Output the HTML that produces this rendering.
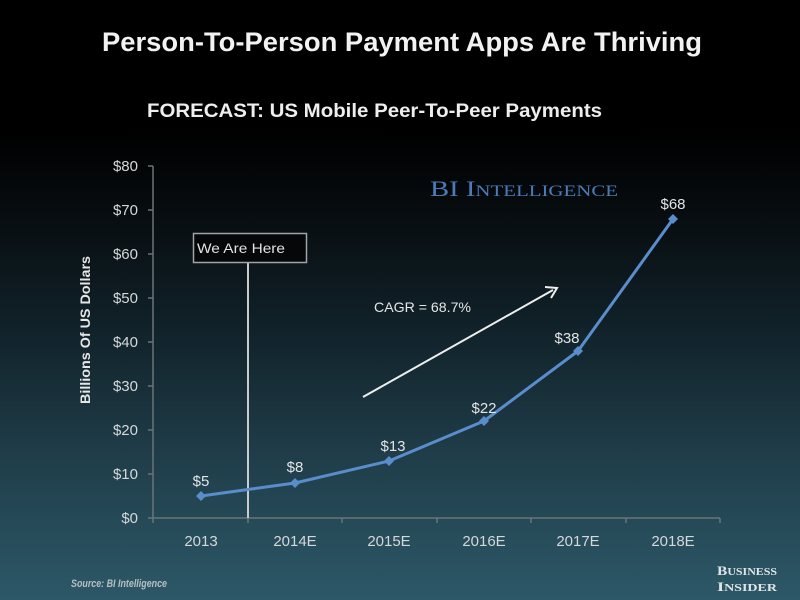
<!DOCTYPE html>
<html>
<head>
<meta charset="utf-8">
<style>
  html, body { margin: 0; padding: 0; }
  body { width: 800px; height: 600px; overflow: hidden; }
  .bg {
    position: absolute; left: 0; top: 0; width: 800px; height: 600px;
    background: linear-gradient(to bottom, #000000 0%, #000000 22%, #070c0f 35%, #11222a 55%, #1f3c48 75%, #2d5868 100%);
  }
  svg { position: absolute; left: 0; top: 0; }
</style>
</head>
<body>
<div class="bg"></div>
<svg width="800" height="600" viewBox="0 0 800 600" xmlns="http://www.w3.org/2000/svg" font-family="Liberation Sans, sans-serif">
  <!-- Title -->
  <text x="102" y="51" font-size="27" font-weight="bold" fill="#f2f2f2" textLength="600" lengthAdjust="spacingAndGlyphs">Person-To-Person Payment Apps Are Thriving</text>
  <text x="147" y="117" font-size="19" font-weight="bold" fill="#eeeeee" textLength="455" lengthAdjust="spacingAndGlyphs">FORECAST: US Mobile Peer-To-Peer Payments</text>

  <!-- BI Intelligence -->
  <text x="430" y="196" font-family="Liberation Serif, serif" font-size="22" fill="#4b7cb8" textLength="188" lengthAdjust="spacingAndGlyphs">BI I<tspan font-size="16">NTELLIGENCE</tspan></text>

  <!-- Axes -->
  <g stroke="#6b7478" stroke-width="1.5" fill="none">
    <line x1="153" y1="166" x2="153" y2="518"/>
    <line x1="153" y1="518" x2="720" y2="518"/>
    <line x1="148" y1="166" x2="153" y2="166"/>
    <line x1="148" y1="210" x2="153" y2="210"/>
    <line x1="148" y1="254" x2="153" y2="254"/>
    <line x1="148" y1="298" x2="153" y2="298"/>
    <line x1="148" y1="342" x2="153" y2="342"/>
    <line x1="148" y1="386" x2="153" y2="386"/>
    <line x1="148" y1="430" x2="153" y2="430"/>
    <line x1="148" y1="474" x2="153" y2="474"/>
    <line x1="148" y1="518" x2="153" y2="518"/>
    <line x1="153" y1="518" x2="153" y2="523"/>
    <line x1="248" y1="518" x2="248" y2="523"/>
    <line x1="342" y1="518" x2="342" y2="523"/>
    <line x1="437" y1="518" x2="437" y2="523"/>
    <line x1="531" y1="518" x2="531" y2="523"/>
    <line x1="626" y1="518" x2="626" y2="523"/>
    <line x1="720" y1="518" x2="720" y2="523"/>
  </g>

  <!-- Y tick labels -->
  <g font-size="15" fill="#d4d8da" text-anchor="end">
    <text x="138" y="171">$80</text>
    <text x="138" y="215">$70</text>
    <text x="138" y="259">$60</text>
    <text x="138" y="303">$50</text>
    <text x="138" y="347">$40</text>
    <text x="138" y="391">$30</text>
    <text x="138" y="435">$20</text>
    <text x="138" y="479">$10</text>
    <text x="138" y="523">$0</text>
  </g>

  <!-- X labels -->
  <g font-size="15" fill="#d4d8da" text-anchor="middle">
    <text x="201" y="546">2013</text>
    <text x="295" y="546">2014E</text>
    <text x="389" y="546">2015E</text>
    <text x="484" y="546">2016E</text>
    <text x="578" y="546">2017E</text>
    <text x="673" y="546">2018E</text>
  </g>

  <!-- Y axis title -->
  <text transform="translate(90,330) rotate(-90)" font-size="14" font-weight="bold" fill="#e6e6e6" text-anchor="middle" textLength="148" lengthAdjust="spacingAndGlyphs">Billions Of US Dollars</text>

  <!-- We Are Here -->
  <line x1="248" y1="263" x2="248" y2="518" stroke="#c8cccd" stroke-width="2"/>
  <rect x="193.5" y="233.5" width="113" height="29" fill="#050708" stroke="#a0a4a6" stroke-width="1.5"/>
  <text x="197" y="253" font-size="14" fill="#e2e2e2" textLength="88" lengthAdjust="spacingAndGlyphs">We Are Here</text>

  <!-- CAGR -->
  <text x="374" y="312" font-size="14" fill="#e6e6e6" textLength="97" lengthAdjust="spacingAndGlyphs">CAGR = 68.7%</text>
  <line x1="363" y1="397" x2="553" y2="290" stroke="#eeeeee" stroke-width="2"/>
  <polyline points="545,287 557,288 551,298" fill="none" stroke="#eeeeee" stroke-width="2"/>

  <!-- Series -->
  <polyline points="201,496 295,483 389,461 484,421 578,351 673,219" fill="none" stroke="#5a8dcc" stroke-width="3" stroke-linejoin="round"/>
  <g fill="#5a8dcc">
    <polygon points="201,491 206,496 201,501 196,496"/>
    <polygon points="295,478 300,483 295,488 290,483"/>
    <polygon points="389,456 394,461 389,466 384,461"/>
    <polygon points="484,416 489,421 484,426 479,421"/>
    <polygon points="578,346 583,351 578,356 573,351"/>
    <polygon points="673,214 678,219 673,224 668,219"/>
  </g>

  <!-- Data labels -->
  <g font-size="15" fill="#e2e4e6" text-anchor="middle">
    <text x="201" y="486">$5</text>
    <text x="295" y="472">$8</text>
    <text x="393" y="451">$13</text>
    <text x="484" y="413">$22</text>
    <text x="567" y="343">$38</text>
    <text x="673" y="209">$68</text>
  </g>

  <!-- Source -->
  <text x="71" y="587" font-size="11" font-style="italic" font-weight="bold" fill="#b6c0c4" textLength="96" lengthAdjust="spacingAndGlyphs">Source: BI Intelligence</text>

  <!-- Business Insider logo -->
  <text x="717" y="575" font-family="Liberation Serif, serif" font-size="13" font-weight="bold" fill="#dfe6e8" textLength="60" lengthAdjust="spacingAndGlyphs">B<tspan font-size="10">USINESS</tspan></text>
  <text x="717" y="591" font-family="Liberation Serif, serif" font-size="13" font-weight="bold" fill="#dfe6e8" textLength="60" lengthAdjust="spacingAndGlyphs">I<tspan font-size="10">NSIDER</tspan></text>
</svg>
</body>
</html>
